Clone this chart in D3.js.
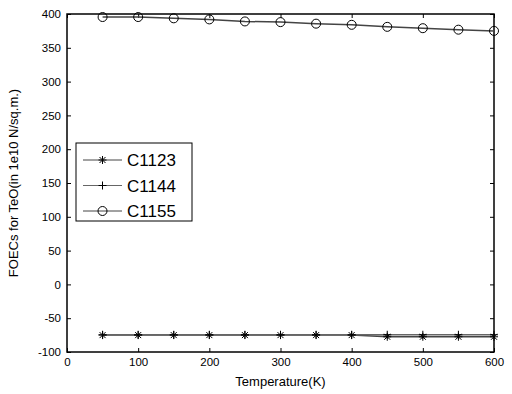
<!DOCTYPE html>
<html><head><meta charset="utf-8">
<script src="https://cdn.jsdelivr.net/npm/d3@7"></script>
<style>body{margin:0;background:#fff;} text{font-family:"Liberation Sans",Arial,sans-serif;}</style>
</head><body><svg id="c" width="512" height="394"></svg>
<script>
const temps = [50,100,150,200,250,300,350,400,450,500,550,600];
const c1123 = [-75,-75,-75,-75,-75,-75,-75,-75,-77.5,-77.5,-77.5,-77.5];
const c1144 = [-74.5,-74.5,-74.5,-74.5,-74.5,-74.5,-74.5,-74.5,-74.5,-74.5,-74.5,-74.5];
const c1155 = [395.5,395.5,393.6,392,389,388,385.7,384,381,379,376.8,375];
const xTicks = [0,100,200,300,400,500,600];
const yTicks = [-100,-50,0,50,100,150,200,250,300,350,400];
const seriesNames = ["C1123","C1144","C1155"];

const svg = d3.select("#c");
const L=67,R=494,T=14,B=352;
const x = d3.scaleLinear().domain([0,600]).range([L,R]);
const y = d3.scaleLinear().domain([-100,400]).range([B,T]);
const fmt = d => String(d);

const g = svg.append("g");
g.append("g").attr("transform",`translate(0,${B})`).call(d3.axisBottom(x).tickValues(xTicks).tickSize(-4).tickPadding(6).tickFormat(fmt))
 .call(a=>{a.select(".domain").remove();a.selectAll("text").attr("font-size",11.5).attr("font-family","Liberation Sans, Arial");});
g.append("g").attr("transform",`translate(0,${T})`).call(d3.axisTop(x).tickValues(xTicks).tickSize(-4).tickFormat(""))
 .call(a=>a.select(".domain").remove());
g.append("g").attr("transform",`translate(${L},0)`).call(d3.axisLeft(y).tickValues(yTicks).tickSize(-4).tickPadding(6).tickFormat(fmt))
 .call(a=>{a.select(".domain").remove();a.selectAll("text").attr("font-size",11.5).attr("font-family","Liberation Sans, Arial");});
g.append("g").attr("transform",`translate(${R},0)`).call(d3.axisRight(y).tickValues(yTicks).tickSize(-4).tickFormat(""))
 .call(a=>a.select(".domain").remove());
svg.append("rect").attr("x",L).attr("y",T).attr("width",R-L).attr("height",B-T).attr("fill","none").attr("stroke","#000").attr("stroke-width",1.5);

const line = d3.line().x((d,i)=>x(temps[i])).y(d=>y(d));
const lineColors = ["#444","#666","#444"];

function star(sel,cx,cy){
  const s=4;
  sel.append("path").attr("d",`M${cx-s},${cy}H${cx+s}M${cx},${cy-s}V${cy+s}M${cx-3},${cy-3}L${cx+3},${cy+3}M${cx-3},${cy+3}L${cx+3},${cy-3}`).attr("stroke","#000").attr("stroke-width",1);
}
function plus(sel,cx,cy){
  const s=4;
  sel.append("path").attr("d",`M${cx-s},${cy}H${cx+s}M${cx},${cy-s}V${cy+s}`).attr("stroke","#000").attr("stroke-width",1);
}
function circ(sel,cx,cy){
  sel.append("circle").attr("cx",cx).attr("cy",cy).attr("r",4.5).attr("fill","none").attr("stroke","#000").attr("stroke-width",1);
}
const markers=[star,plus,circ];
[c1123,c1144,c1155].forEach((vals,k)=>{
  svg.append("path").datum(vals).attr("d",line).attr("fill","none").attr("stroke",lineColors[k]).attr("stroke-width",1.5);
});
[c1123,c1144,c1155].forEach((vals,k)=>{
  const mg=svg.append("g");
  vals.forEach((v,i)=>markers[k](mg,x(temps[i]),y(v)));
});

const lg = svg.append("g");
lg.append("rect").attr("x",76).attr("y",143).attr("width",116).attr("height",78).attr("fill","#fff").attr("stroke","#000").attr("stroke-width",1);
seriesNames.forEach((n,k)=>{
  const yy=160+k*25.5;
  lg.append("line").attr("x1",83).attr("x2",122).attr("y1",yy).attr("y2",yy).attr("stroke",lineColors[k]).attr("stroke-width",1);
  markers[k](lg,102.5,yy);
  lg.append("text").attr("x",127).attr("y",yy+6).attr("font-size",17).text(n);
});

svg.append("text").attr("x",(L+R)/2).attr("y",386).attr("text-anchor","middle").attr("font-size",13).text("Temperature(K)");
svg.append("text").attr("transform",`translate(18,${(T+B)/2}) rotate(-90)`).attr("text-anchor","middle").attr("font-size",13).text("FOECs for TeO(in 1e10 N/sq.m.)");
</script></body></html>
